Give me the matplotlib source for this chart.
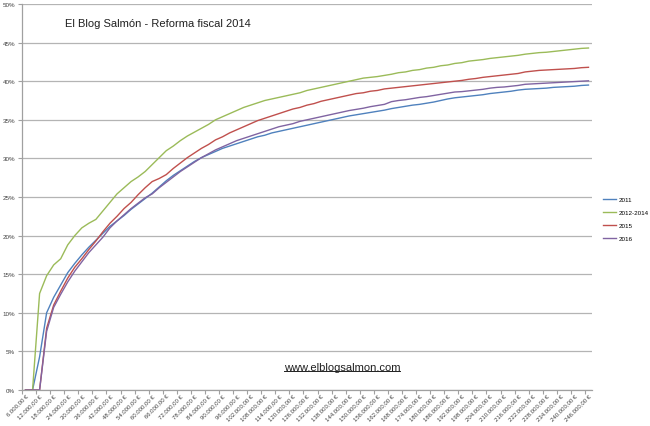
import numpy as np
import matplotlib
matplotlib.use('Agg')
import matplotlib.pyplot as plt
from matplotlib.lines import Line2D

plt.rcParams['font.family'] = ['Liberation Sans', 'DejaVu Sans']

# Salario bruto (euros), una categoria cada 3.000 euros
salarios = list(range(6000, 246001, 3000))

# Tipo medio efectivo (%)
tipo_2011 = [0, 0, 4.3, 10.0, 12.0, 13.6, 15.2, 16.4, 17.5, 18.5,
             19.4, 20.3, 21.2, 21.9, 22.6, 23.4, 24.1, 24.8, 25.5, 26.3,
             27.1, 27.8, 28.4, 29.0, 29.6, 30.1, 30.5, 30.9, 31.3, 31.6,
             31.9, 32.2, 32.5, 32.8, 33.0, 33.3, 33.5, 33.7, 33.9, 34.1,
             34.3, 34.5, 34.7, 34.9, 35.1, 35.3, 35.5, 35.65, 35.8, 35.95,
             36.1, 36.25, 36.45, 36.6, 36.75, 36.9, 37.0, 37.15, 37.3, 37.5,
             37.7, 37.85, 37.95, 38.05, 38.15, 38.25, 38.4, 38.5, 38.6, 38.7,
             38.85, 38.95, 39.0, 39.05, 39.1, 39.2, 39.25, 39.3, 39.35, 39.45,
             39.5]
tipo_2012_2014 = [0, 0, 12.5, 14.8, 16.2, 17.0, 18.8, 20.0, 21.0, 21.6,
                  22.1, 23.2, 24.3, 25.4, 26.2, 27.0, 27.6, 28.3, 29.2, 30.1,
                  31.0, 31.6, 32.3, 32.9, 33.4, 33.9, 34.4, 35.0, 35.4, 35.8,
                  36.2, 36.6, 36.9, 37.2, 37.5, 37.7, 37.9, 38.1, 38.3, 38.5,
                  38.8, 39.0, 39.2, 39.4, 39.6, 39.8, 40.0, 40.2, 40.4, 40.5,
                  40.6, 40.75, 40.9, 41.1, 41.2, 41.4, 41.5, 41.7, 41.8, 42.0,
                  42.1, 42.3, 42.4, 42.6, 42.7, 42.8, 42.95, 43.05, 43.15, 43.25,
                  43.35, 43.5, 43.6, 43.7, 43.75, 43.85, 43.95, 44.05, 44.15, 44.25,
                  44.3]
tipo_2015 = [0, 0, 0, 8.0, 11.0, 12.8, 14.5, 15.9, 17.0, 18.2,
             19.3, 20.5, 21.6, 22.5, 23.5, 24.3, 25.3, 26.2, 27.0, 27.4,
             27.9, 28.7, 29.4, 30.1, 30.7, 31.3, 31.8, 32.4, 32.8, 33.3,
             33.7, 34.1, 34.5, 34.9, 35.2, 35.5, 35.8, 36.1, 36.4, 36.6,
             36.9, 37.1, 37.4, 37.6, 37.8, 38.0, 38.2, 38.4, 38.5, 38.7,
             38.8, 39.0, 39.1, 39.2, 39.3, 39.4, 39.5, 39.6, 39.7, 39.8,
             39.9, 40.0, 40.1, 40.25, 40.35, 40.5, 40.6, 40.7, 40.8, 40.9,
             41.0, 41.2, 41.3, 41.4, 41.45, 41.5, 41.55, 41.6, 41.65, 41.75,
             41.8]
tipo_2016 = [0, 0, 0, 7.6, 10.7, 12.4, 14.0, 15.4, 16.6, 17.8,
             18.8, 19.8, 21.0, 21.9, 22.7, 23.5, 24.2, 24.9, 25.4, 26.2,
             26.9, 27.6, 28.3, 28.9, 29.5, 30.1, 30.6, 31.1, 31.5, 31.9,
             32.3, 32.6, 32.9, 33.2, 33.5, 33.8, 34.1, 34.3, 34.5, 34.8,
             35.0, 35.2, 35.4, 35.6, 35.8, 36.0, 36.2, 36.35, 36.5, 36.7,
             36.85, 37.0, 37.35, 37.5, 37.6, 37.75, 37.9, 38.0, 38.15, 38.3,
             38.45, 38.6, 38.65, 38.75, 38.85, 38.95, 39.1, 39.2, 39.25, 39.35,
             39.45, 39.6, 39.65, 39.7, 39.75, 39.8, 39.85, 39.9, 39.95, 40.0,
             40.05]

series = [('2011', tipo_2011, '#4F81BD'),
          ('2012-2014', tipo_2012_2014, '#9BBB59'),
          ('2015', tipo_2015, '#C0504D'),
          ('2016', tipo_2016, '#8064A2')]


def euros(v):
    # 6000 -> "6.000,00 €"
    return '{:,}'.format(v).replace(',', '.') + ',00 €'


fig = plt.figure(figsize=(6.5, 4.27), dpi=100)
ax = fig.add_axes([22 / 650, 36 / 427, 570 / 650, 386 / 427])

x = np.arange(len(salarios))
for name, vals, color in series:
    ax.plot(x, np.array(vals) / 100, color=color, lw=1.0, label=name)

ax.set_xlim(-0.5, len(salarios) - 0.5)
ax.set_ylim(0, 0.5)

# eje Y
ax.set_yticks(np.arange(0, 0.51, 0.05))
ax.set_yticklabels(['{:.0f}%'.format(t * 100) for t in np.arange(0, 0.51, 0.05)])
ax.yaxis.grid(True, color='#b4b4b4', lw=0.9)
ax.set_axisbelow(True)

# eje X: marcas entre categorias cada 2, etiquetas cada 2 categorias
ax.set_xticks(np.arange(-0.5, len(salarios), 2))
ax.set_xticklabels([])
ax.set_xticks(x[::2], minor=True)
ax.set_xticklabels([euros(s) for s in salarios[::2]], minor=True,
                   rotation=45, ha='right', va='top', rotation_mode='anchor')
ax.tick_params(axis='x', which='minor', length=0, labelsize=4.3, pad=2,
               labelcolor='#404040')
ax.tick_params(axis='x', which='major', length=3, color='#a0a0a0')
ax.tick_params(axis='y', length=3, color='#a0a0a0', labelsize=4.5,
               labelcolor='#404040', pad=2)

for s in ['top', 'right']:
    ax.spines[s].set_visible(False)
for s in ['left', 'bottom']:
    ax.spines[s].set_color('#a0a0a0')
    ax.spines[s].set_linewidth(0.9)

fig.legend(loc='center left', bbox_to_anchor=(597 / 650, 1 - 220 / 427),
           frameon=False, fontsize=4.5, handlelength=2.2, labelspacing=1.2,
           handletextpad=0.3)

fig.text(65 / 650, 1 - 24 / 427, 'El Blog Salmón - Reforma fiscal 2014',
         fontsize=8, va='center', ha='left', color='#202020')
web = fig.text(342 / 650, 1 - 368 / 427, 'www.elblogsalmon.com',
               fontsize=8, va='center', ha='center', color='#202020')

# subrayado del texto web
fig.canvas.draw()
bb = web.get_window_extent(renderer=fig.canvas.get_renderer())
bbf = bb.transformed(fig.transFigure.inverted())
fig.add_artist(Line2D([bbf.x0, bbf.x1], [bbf.y0 + 0.002, bbf.y0 + 0.002],
                      transform=fig.transFigure, color='#202020', lw=0.7))

plt.savefig('out.png', dpi=100)
